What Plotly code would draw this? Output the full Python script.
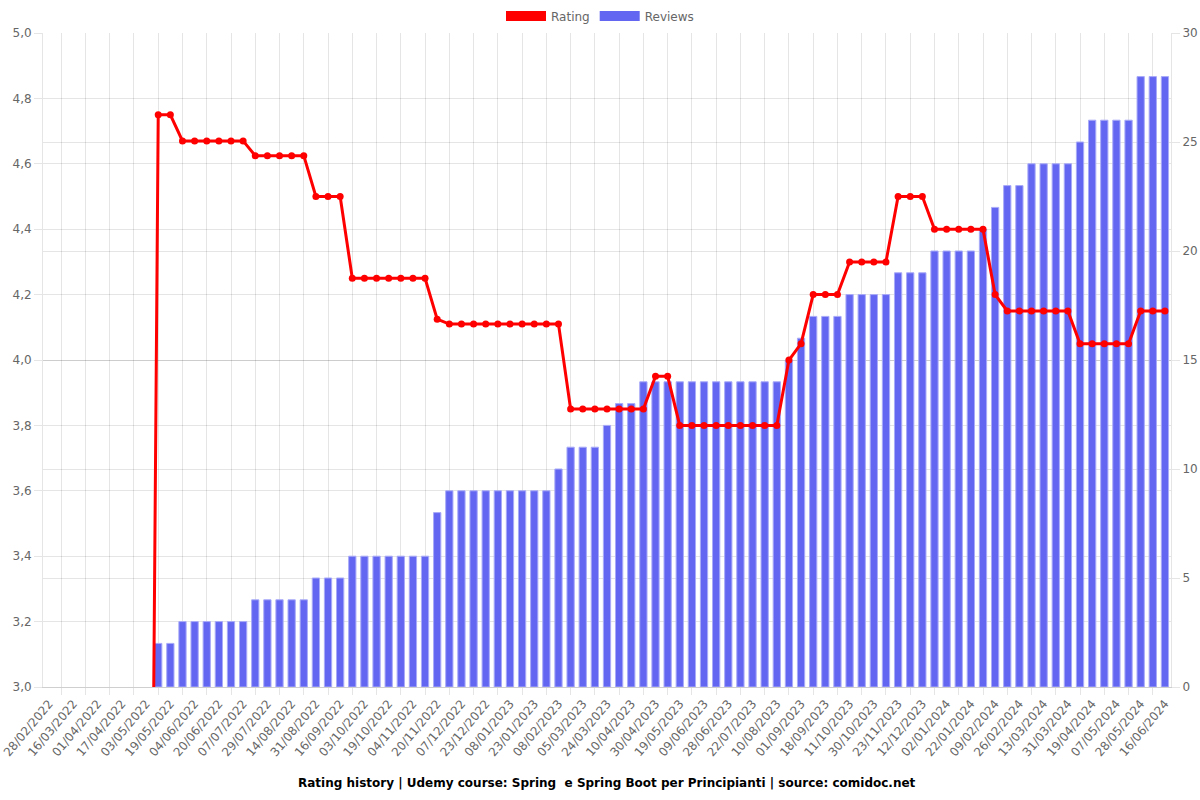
import plotly.graph_objects as go

# Category dates (every other one is labelled on the axis)
dates = [
    "28/02/2022", "08/03/2022", "16/03/2022", "24/03/2022", "01/04/2022", "09/04/2022",
    "17/04/2022", "25/04/2022", "03/05/2022", "11/05/2022", "19/05/2022", "27/05/2022",
    "04/06/2022", "12/06/2022", "20/06/2022", "28/06/2022", "07/07/2022", "18/07/2022",
    "29/07/2022", "06/08/2022", "14/08/2022", "22/08/2022", "31/08/2022", "08/09/2022",
    "16/09/2022", "24/09/2022", "03/10/2022", "11/10/2022", "19/10/2022", "27/10/2022",
    "04/11/2022", "12/11/2022", "20/11/2022", "28/11/2022", "07/12/2022", "15/12/2022",
    "23/12/2022", "31/12/2022", "08/01/2023", "15/01/2023", "23/01/2023", "31/01/2023",
    "08/02/2023", "20/02/2023", "05/03/2023", "14/03/2023", "24/03/2023", "01/04/2023",
    "10/04/2023", "20/04/2023", "30/04/2023", "09/05/2023", "19/05/2023", "29/05/2023",
    "09/06/2023", "18/06/2023", "28/06/2023", "10/07/2023", "22/07/2023", "01/08/2023",
    "10/08/2023", "21/08/2023", "01/09/2023", "09/09/2023", "18/09/2023", "29/09/2023",
    "11/10/2023", "20/10/2023", "30/10/2023", "11/11/2023", "23/11/2023", "02/12/2023",
    "12/12/2023", "22/12/2023", "02/01/2024", "12/01/2024", "22/01/2024", "31/01/2024",
    "09/02/2024", "17/02/2024", "26/02/2024", "05/03/2024", "13/03/2024", "22/03/2024",
    "31/03/2024", "10/04/2024", "19/04/2024", "28/04/2024", "07/05/2024", "17/05/2024",
    "28/05/2024", "06/06/2024", "16/06/2024",
]

reviews = [
    0, 0, 0, 0, 0, 0, 0, 0, 0,
    2, 2,
    3, 3, 3, 3, 3, 3,
    4, 4, 4, 4, 4,
    5, 5, 5,
    6, 6, 6, 6, 6, 6, 6,
    8,
    9, 9, 9, 9, 9, 9, 9, 9, 9,
    10,
    11, 11, 11,
    12,
    13, 13,
    14, 14, 14, 14, 14, 14, 14, 14, 14, 14, 14, 14,
    15,
    16,
    17, 17, 17,
    18, 18, 18, 18,
    19, 19, 19,
    20, 20, 20, 20,
    21,
    22,
    23, 23,
    24, 24, 24, 24,
    25,
    26, 26, 26, 26,
    28, 28, 28,
]

rating = [
    0, 0, 0, 0, 0, 0, 0, 0, 0,
    4.75, 4.75,
    4.67, 4.67, 4.67, 4.67, 4.67, 4.67,
    4.625, 4.625, 4.625, 4.625, 4.625,
    4.5, 4.5, 4.5,
    4.25, 4.25, 4.25, 4.25, 4.25, 4.25, 4.25,
    4.125,
    4.11, 4.11, 4.11, 4.11, 4.11, 4.11, 4.11, 4.11, 4.11, 4.11,
    3.85, 3.85, 3.85, 3.85, 3.85, 3.85, 3.85,
    3.95, 3.95,
    3.8, 3.8, 3.8, 3.8, 3.8, 3.8, 3.8, 3.8, 3.8,
    4.0,
    4.05,
    4.2, 4.2, 4.2,
    4.3, 4.3, 4.3, 4.3,
    4.5, 4.5, 4.5,
    4.4, 4.4, 4.4, 4.4, 4.4,
    4.2,
    4.15, 4.15, 4.15, 4.15, 4.15, 4.15,
    4.05, 4.05, 4.05, 4.05, 4.05,
    4.15, 4.15, 4.15,
]

title_text = "Rating history | Udemy course: Spring \u00a0e Spring Boot per Principianti | source: comidoc.net"

x_pos = list(range(len(dates)))
label_pos = x_pos[0::2]
label_text = dates[0::2]
grid_pos = x_pos[1::2]
bar_border = [1 if r > 0 else 0 for r in reviews]

GRID = "rgba(0,0,0,0.1)"
FONT = "DejaVu Sans"
RED = "#ff0000"
BLUE = "#6366f1"

fig = go.Figure()
# legend-only box swatches (Chart.js style legend)
fig.add_trace(go.Scatter(x=[None], y=[None], name="Rating", yaxis="y2", mode="lines",
                         line=dict(color=RED, width=12), hoverinfo="skip"))
fig.add_trace(go.Scatter(x=[None], y=[None], name="Reviews", yaxis="y2", mode="lines",
                         line=dict(color=BLUE, width=12), hoverinfo="skip"))
fig.add_trace(go.Bar(x=x_pos, y=reviews, name="Reviews", yaxis="y", width=0.6,
                     marker=dict(color=BLUE, line=dict(color="#a9abf8", width=bar_border)),
                     hovertext=dates, showlegend=False))
fig.add_trace(go.Scatter(x=x_pos, y=rating, name="Rating", yaxis="y2", mode="lines+markers",
                         line=dict(color=RED, width=3),
                         marker=dict(color=RED, size=7),
                         showlegend=False, hovertext=dates))

fig.update_layout(
    width=1200, height=800,
    margin=dict(l=43, r=29, t=33, b=113, autoexpand=False),
    paper_bgcolor="white", plot_bgcolor="white",
    separators=",.",
    barmode="overlay",
    font=dict(family=FONT, size=12, color="#666"),
    legend=dict(orientation="h", x=0.5, xanchor="center", xref="container",
                y=1 - 16 / 800, yanchor="middle", yref="container",
                itemwidth=40, traceorder="normal",
                font=dict(family=FONT, size=12, color="#666")),
    xaxis=dict(
        range=[-0.5, len(dates) - 0.5], automargin=False,
        tickmode="array", tickvals=label_pos, ticktext=label_text,
        tickangle=-50, showgrid=False, ticks="", zeroline=False,
        showline=True, linecolor="#cfcfcf", linewidth=1,
        ticklabelstandoff=4,
        tickfont=dict(family=FONT, size=12, color="#666"),
        minor=dict(tickmode="array", tickvals=grid_pos, showgrid=True, gridcolor=GRID,
                   gridwidth=1, ticks="outside", ticklen=7, tickcolor=GRID),
    ),
    yaxis=dict(
        side="right", range=[0, 30], tick0=0, dtick=5, automargin=False,
        showgrid=True, gridcolor=GRID, zeroline=False,
        ticks="outside", ticklen=8, tickcolor=GRID,
        showline=True, linecolor=GRID,
        tickfont=dict(family=FONT, size=12, color="#666"),
    ),
    yaxis2=dict(
        overlaying="y", side="left", range=[3, 5], tick0=3, dtick=0.2, tickformat=".1f",
        automargin=False,
        showgrid=True, gridcolor=GRID, zeroline=False,
        ticks="outside", ticklen=8, tickcolor=GRID,
        showline=True, linecolor=GRID,
        tickfont=dict(family=FONT, size=12, color="#666"),
    ),
    annotations=[dict(
        text="<b>" + title_text + "</b>", xref="paper", yref="paper",
        x=0.5, y=-0.1466, xanchor="center", yanchor="middle", showarrow=False,
        font=dict(family=FONT, size=12, color="#000"),
    )],
)

fig.write_html("out.html", config={"displayModeBar": False},
               post_script="document.body.style.margin='0';")
